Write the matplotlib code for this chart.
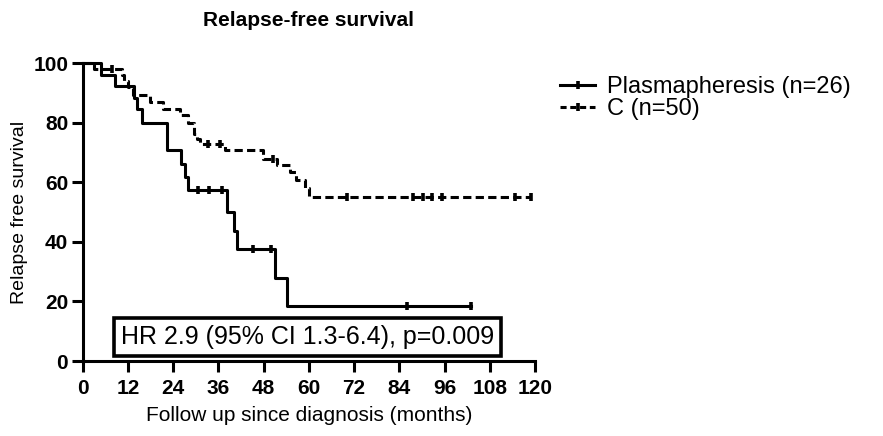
import matplotlib
matplotlib.use("Agg")
import matplotlib.pyplot as plt
from matplotlib.lines import Line2D
import numpy as np

plt.rcParams['font.family'] = ['Liberation Sans', 'DejaVu Sans']

# Plasmapheresis (n=26): step times (months) and survival (%)
plasma_t = [0, 4.8, 8.6, 13.5, 14.5, 15.6, 22.3, 26.0, 27.1, 28.0, 38.2, 40.1, 41.0, 51.0, 54.1, 103]
plasma_s = [100, 96.2, 92.3, 88.5, 84.6, 79.8, 70.8, 66.3, 61.8, 57.4, 50.1, 43.7, 37.5, 28.0, 18.5, 18.5]
plasma_cens = [30.7, 33.6, 36.9, 45.3, 50.0, 86.0, 103]

# C (n=50)
ctrl_t = [0, 3.0, 10.3, 11.0, 12.0, 13.4, 17.9, 21.4, 25.8, 28.0, 29.4, 30.2, 31.1, 37.8,
          47.7, 51.5, 55.0, 56.5, 59.0, 60.0, 119]
ctrl_s = [100, 98, 96, 94, 92, 89.5, 87, 84.5, 82.5, 79.8, 76.4, 74.7, 73.0, 70.8,
          68.0, 65.8, 63.5, 60.7, 58.0, 55.1, 55.1]
ctrl_cens = [7.7, 33.3, 36.4, 50.5, 70.0, 87.7, 90.3, 92.6, 95.2, 114.7, 119]

labels = ["Plasmapheresis (n=26)", "C (n=50)"]
x_ticks = [0, 12, 24, 36, 48, 60, 72, 84, 96, 108, 120]
y_ticks = [0, 20, 40, 60, 80, 100]

LW = 2.2
DASH = (2.7, 1.4)


def surv_at(times, surv, t):
    idx = np.searchsorted(times, t, side='right') - 1
    return np.array(surv)[idx]


fig = plt.figure(figsize=(8.83, 4.36), dpi=100)
ax = fig.add_axes([0.0937, 0.172, 0.5122, 0.6828])

ax.step(plasma_t, plasma_s, where='post', color='black', lw=LW, clip_on=False)
ax.plot(plasma_cens, surv_at(plasma_t, plasma_s, plasma_cens), ls='none', marker='|',
        ms=6, mew=2.6, color='black', clip_on=False)

ax.step(ctrl_t, ctrl_s, where='post', color='black', lw=LW, dashes=DASH, clip_on=False)
ax.plot(ctrl_cens, surv_at(ctrl_t, ctrl_s, ctrl_cens), ls='none', marker='|',
        ms=6, mew=2.6, color='black', clip_on=False)

ax.set_xlim(0, 120)
ax.set_ylim(0, 100)
ax.set_xticks(x_ticks)
ax.set_yticks(y_ticks)
for s in ['top', 'right']:
    ax.spines[s].set_visible(False)
for s in ['left', 'bottom']:
    ax.spines[s].set_linewidth(LW)
ax.tick_params(axis='both', direction='out', length=8, width=LW, labelsize=15)
ax.tick_params(axis='x', pad=5)
ax.tick_params(axis='y', pad=2.5)
for lab in ax.get_xticklabels() + ax.get_yticklabels():
    lab.set_fontweight('bold')

ax.set_xlabel("Follow up since diagnosis (months)", fontsize=15, labelpad=5.5)
ax.set_ylabel("Relapse free survival", fontsize=14, labelpad=4)
ax.set_title("Relapse-free survival", fontsize=15, fontweight='bold', pad=27)

ax.text(59.6, 8.0, "HR 2.9 (95% CI 1.3-6.4), p=0.009", fontsize=18, ha='center', va='center',
        bbox=dict(boxstyle='square,pad=0.28', fc='white', ec='black', lw=2.6))

handles = [
    Line2D([], [], color='black', lw=LW, marker='|', ms=6, mew=2.6),
    Line2D([], [], color='black', lw=LW, dashes=(2.0, 1.2), marker='|', ms=6, mew=2.6),
]
fig.legend(handles, labels, loc='upper left', bbox_to_anchor=(560 / 883, 1 - 76 / 436),
           frameon=False, fontsize=17, handlelength=1.5, handletextpad=0.5,
           labelspacing=0.0, numpoints=1, borderaxespad=0, borderpad=0)

fig.savefig("out.png", dpi=100)
